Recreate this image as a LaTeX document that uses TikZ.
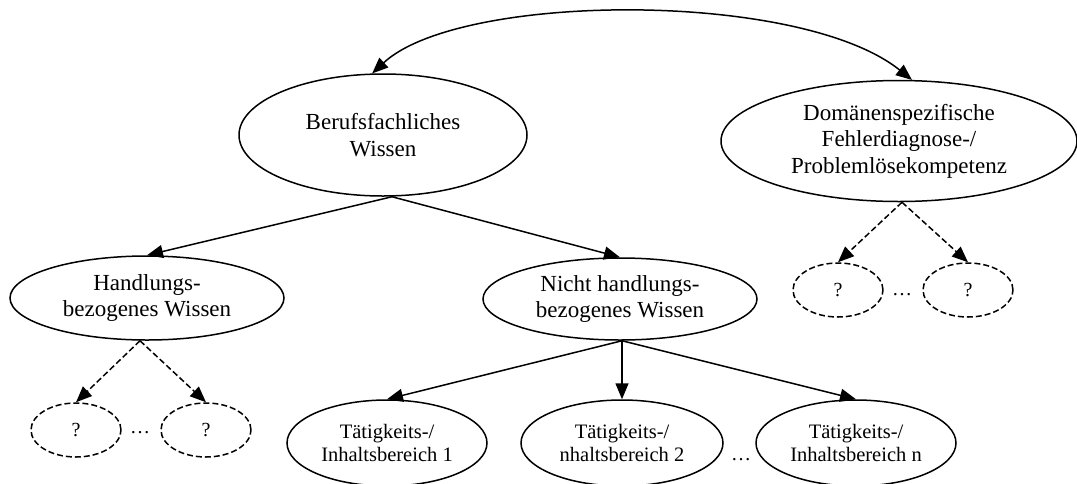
\documentclass[tikz,border=0pt]{standalone}
\usepackage{fontspec}
\setmainfont{Liberation Serif}
\usetikzlibrary{shapes.geometric,arrows.meta}
\begin{document}
\begin{tikzpicture}[x=1pt,y=-1pt,
  el/.style={ellipse, draw, line width=1.5pt, inner sep=0pt, align=center,
    font=\fontsize{23}{26.5}\selectfont},
  small/.style={el, font=\fontsize{20.5}{23}\selectfont},
  qel/.style={ellipse, draw, dashed, dash pattern=on 6pt off 3pt, line width=1.5pt,
    inner sep=0pt, minimum width=90pt, minimum height=54pt,
    font=\fontsize{20}{23}\selectfont},
  dotsnode/.style={inner sep=0pt, font=\fontsize{20}{23}\selectfont},
  arr/.style={line width=1.5pt, -{Triangle[length=16pt,width=13pt]}},
  darr/.style={arr, dash pattern=on 6pt off 3pt},
  barr/.style={line width=1.5pt, {Triangle[length=16pt,width=13pt]}-{Triangle[length=16pt,width=13pt]}}
]
\useasboundingbox (0,0) rectangle (1077,483);

\node[el, minimum width=288pt, minimum height=122pt] (beruf) at (383,135) {Berufsfachliches\\Wissen};
\node[el, minimum width=356pt, minimum height=121pt] (dom) at (899,141) {Domänenspezifische\\Fehlerdiagnose-/\\Problemlösekompetenz};
\node[el, minimum width=274pt, minimum height=84pt] (hand) at (147,298) {Handlungs-\\bezogenes Wissen};
\node[el, minimum width=274pt, minimum height=82pt] (nicht) at (620,299) {Nicht handlungs-\\bezogenes Wissen};
\node[small, minimum width=200pt, minimum height=86pt] (t1) at (387,443) {Tätigkeits-/\\Inhaltsbereich 1};
\node[small, minimum width=202pt, minimum height=86pt] (t2) at (622,443) {Tätigkeits-/\\nhaltsbereich 2};
\node[small, minimum width=200pt, minimum height=86pt] (tn) at (856,443) {Tätigkeits-/\\Inhaltsbereich n};

\node[qel] (q1) at (76,430) {?};
\node[qel] (q2) at (206,430) {?};
\node[qel] (q3) at (838,290) {?};
\node[qel] (q4) at (968,290) {?};

\node[dotsnode] (d1) at (140,433) {\dots};
\node[dotsnode] (d2) at (902,295) {\dots};
\node[dotsnode] (d3) at (741,460) {\dots};

\draw[barr] (beruf.100) .. controls (460,-8) and (800,-10) .. (dom.78);

\draw[arr] ([xshift=9pt]beruf.south) -- (hand.north);
\draw[arr] ([xshift=9pt]beruf.south) -- (nicht.north);
\draw[arr] ([xshift=2pt]nicht.south) -- (t1.north);
\draw[arr] ([xshift=2pt]nicht.south) -- (t2.north);
\draw[arr] ([xshift=2pt]nicht.south) -- (tn.north);

\draw[darr] ([xshift=-7pt]hand.south) -- (q1.north);
\draw[darr] ([xshift=-7pt]hand.south) -- (q2.north);
\draw[darr] ([xshift=3pt]dom.south) -- (q3.north);
\draw[darr] ([xshift=3pt]dom.south) -- (q4.north);
\end{tikzpicture}
\end{document}
